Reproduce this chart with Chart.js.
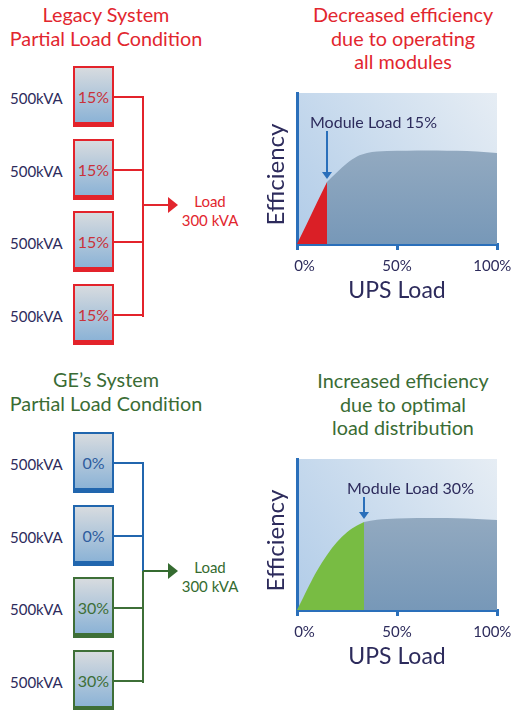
<!DOCTYPE html>
<html>
<head>
<meta charset="utf-8">
<script src="https://cdn.jsdelivr.net/npm/chart.js@4.4.0/dist/chart.umd.min.js"></script>
<style>
  html, body { margin: 0; padding: 0; background: #fff; }
  #page { position: relative; width: 512px; height: 710px; overflow: hidden; font-family: Lato, sans-serif; }
  .title { position: absolute; text-align: center; font-size: 19.8px; line-height: 23.5px; white-space: nowrap; }
  .rating { position: absolute; left: 10px; font-size: 15px; line-height: 20px; color: #2d2b5c; }
  .box { position: absolute; box-sizing: border-box; width: 41px; height: 61px; border: 2px solid; border-bottom-width: 5px;
         background: linear-gradient(#d7dbdf, #8cb3d6); text-align: center; font-size: 16px; line-height: 20px; padding-top: 19px; }
  .seg { position: absolute; }
  .head { position: absolute; width: 0; height: 0; border-top: 8px solid transparent; border-bottom: 8px solid transparent; border-left: 10px solid; }
  .load { position: absolute; width: 80px; text-align: center; font-size: 15px; line-height: 19px; }
  canvas { position: absolute; }
</style>
</head>
<body>
<div id="page">
  <div class="title" style="left:0;width:212px;top:3px;color:#e2262e">Legacy System<br>Partial Load Condition</div>
  <div class="title" style="left:300px;width:206px;top:3px;color:#e2262e">Decreased efficiency<br>due to operating<br>all modules</div>
  <div class="title" style="left:0;width:212px;top:368px;color:#3a6c34">GE’s System<br>Partial Load Condition</div>
  <div class="title" style="left:300px;width:206px;top:369px;color:#3a6c34">Increased efficiency<br>due to optimal<br>load distribution</div>
  <canvas id="legacyChart" width="256" height="225" style="left:256px;top:80px"></canvas>
  <canvas id="geChart" width="256" height="225" style="left:256px;top:446px"></canvas>
</div>
<script>
// module ratings and per-module load
const moduleRatingKVA = [500, 500, 500, 500];
const legacyModuleLoadPct = [15, 15, 15, 15];
const geModuleLoadPct = [0, 0, 30, 30];
const systemLoadKVA = 300;

// efficiency curves (relative height of the plot)
const upsLoadTicks = [0, 50, 100];
const legacyLoadPct = [0, 5, 10, 15, 20, 25, 30, 35, 40, 50, 60, 70, 80, 90, 100];
const legacyEfficiency = [0, 13.5, 27.5, 41, 47.5, 53.5, 58, 60.3, 61.2, 61.7, 62, 62, 61.7, 61.2, 60.3];
const legacyMarkerPct = 15;
const geLoadPct = [0, 3, 6, 10, 15, 20, 25, 30, 33.5, 40, 50, 60, 70, 80, 90, 100];
const geEfficiency = [0, 8, 16, 26, 36.5, 45, 51.5, 56, 58.3, 59.8, 60.6, 61, 61, 60.8, 60.3, 59.6];
const geMarkerPct = 33.5;

const NAVY = '#2d2b5c';
const AXIS_BLUE = '#2a6fba';
const RED = { border: '#e3232b', text: '#c9323a' };
const BLUE = { border: '#2166ae', text: '#2e5c9e' };
const GREEN = { border: '#3e6f37', text: '#3e6f37' };

const page = document.getElementById('page');

function addEl(cls, css, html) {
  const el = document.createElement('div');
  el.className = cls;
  Object.assign(el.style, css);
  if (html !== undefined) el.innerHTML = html;
  page.appendChild(el);
  return el;
}

function line(x1, y1, x2, y2, color) {
  addEl('seg', {
    left: Math.min(x1, x2) - (x1 === x2 ? 1 : 0) + 'px',
    top: Math.min(y1, y2) - (y1 === y2 ? 1 : 0) + 'px',
    width: (x1 === x2 ? 2 : Math.abs(x2 - x1)) + 'px',
    height: (y1 === y2 ? 2 : Math.abs(y2 - y1) + 2) + 'px',
    background: color
  });
}

function drawSystem(firstTop, loads, paletteFor, accent) {
  const boxX = 73, boxW = 41, pitch = 72.6, busX = 143;
  const centers = loads.map((_, i) => Math.round(firstTop + i * pitch + 31));
  loads.forEach((load, i) => {
    const top = Math.round(firstTop + i * pitch);
    const pal = paletteFor(load);
    addEl('rating', { top: (centers[i] - 9) + 'px' }, moduleRatingKVA[i] + 'kVA');
    addEl('box', { left: boxX + 'px', top: top + 'px', borderColor: pal.border, color: pal.text }, load + '%');
    line(boxX + boxW, centers[i], busX + 1, centers[i], pal.border);
  });
  const arrowY = Math.round((centers[1] + centers[2]) / 2) - 1;
  line(busX, centers[0], busX, arrowY, paletteFor(loads[0]).border);
  line(busX, arrowY, busX, centers[centers.length - 1], paletteFor(loads[loads.length - 1]).border);
  line(busX, arrowY, 169, arrowY, accent);
  addEl('head', { left: '168px', top: (arrowY - 8) + 'px', borderLeftColor: accent });
  addEl('load', { left: '170px', top: (arrowY - 13) + 'px', color: accent }, 'Load<br>' + systemLoadKVA + ' kVA');
}

drawSystem(66, legacyModuleLoadPct, () => RED, '#e2262e');
drawSystem(432, geModuleLoadPct, l => (l === 0 ? BLUE : GREEN), '#356b30');

const plotBg = {
  id: 'plotBg',
  beforeDraw(chart) {
    const { ctx, chartArea: a } = chart;
    const g = ctx.createLinearGradient(a.left, a.bottom, a.right, a.top);
    g.addColorStop(0, '#b1cce8');
    g.addColorStop(1, '#e6edf4');
    ctx.save();
    ctx.fillStyle = g;
    ctx.fillRect(a.left, a.top, a.right - a.left, a.bottom - a.top);
    ctx.restore();
  }
};

const moduleMarker = {
  id: 'moduleMarker',
  afterDatasetsDraw(chart, args, opts) {
    const { ctx, chartArea: a, scales: { x, y } } = chart;
    const px = Math.round(x.getPixelForValue(opts.load));
    const py = y.getPixelForValue(opts.eff);
    ctx.save();
    ctx.font = '16px Lato';
    ctx.fillStyle = NAVY;
    ctx.textBaseline = 'middle';
    ctx.fillText(opts.text, px - 17, a.top + 30);
    ctx.strokeStyle = AXIS_BLUE;
    ctx.fillStyle = AXIS_BLUE;
    ctx.lineWidth = 2;
    const tip = py - 3;
    ctx.beginPath();
    ctx.moveTo(px, a.top + 38);
    ctx.lineTo(px, tip - 6);
    ctx.stroke();
    ctx.beginPath();
    ctx.moveTo(px - 5, tip - 7);
    ctx.lineTo(px + 5, tip - 7);
    ctx.lineTo(px, tip);
    ctx.closePath();
    ctx.fill();
    ctx.restore();
  }
};

function grayFill(c) {
  const { ctx, chartArea } = c.chart;
  if (!chartArea) return '#8aa4bd';
  const g = ctx.createLinearGradient(0, chartArea.top, 0, chartArea.bottom);
  g.addColorStop(0, '#a3b4c5');
  g.addColorStop(1, '#7798b8');
  return g;
}

function efficiencyChart(id, loads, eff, marker, hiColor, markerText) {
  const pts = loads.map((x, i) => ({ x: x, y: eff[i] }));
  const markerEff = eff[loads.indexOf(marker)];
  return new Chart(document.getElementById(id), {
    type: 'line',
    data: {
      datasets: [
        { data: pts.filter(p => p.x <= marker), fill: 'origin', backgroundColor: hiColor,
          borderWidth: 0, pointRadius: 0, cubicInterpolationMode: 'monotone' },
        { data: pts.filter(p => p.x >= marker), fill: 'origin', backgroundColor: grayFill,
          borderWidth: 0, pointRadius: 0, cubicInterpolationMode: 'monotone' }
      ]
    },
    plugins: [plotBg, moduleMarker],
    options: {
      responsive: false,
      animation: false,
      layout: { padding: { top: 13, right: 15, left: 0, bottom: 0 } },
      plugins: {
        legend: { display: false },
        tooltip: { enabled: false },
        moduleMarker: { load: marker, eff: markerEff, text: markerText }
      },
      scales: {
        x: {
          type: 'linear', min: 0, max: 100,
          afterBuildTicks: s => { s.ticks = upsLoadTicks.map(v => ({ value: v })); },
          afterFit: s => { s.height = 61; s.paddingLeft = 0; s.paddingRight = 0; },
          grid: { drawOnChartArea: false, drawTicks: true, tickLength: 6, color: AXIS_BLUE, lineWidth: 3 },
          border: { color: AXIS_BLUE, width: 3 },
          ticks: {
            padding: 7, color: NAVY, font: { family: 'Lato', size: 15 }, maxRotation: 0,
            callback: v => v === 0 ? '\u2002\u20020%' : v === 100 ? '100%\u2002\u2009' : v + '%'
          },
          title: { display: true, text: 'UPS Load', color: NAVY, font: { family: 'Lato', size: 23 },
                   padding: { top: 0, bottom: 1 } }
        },
        y: {
          min: 0, max: 100,
          afterFit: s => { s.width = 41; },
          grid: { display: false },
          border: { color: AXIS_BLUE, width: 3 },
          ticks: { display: false },
          title: { display: true, text: 'Efficiency\u2002', color: NAVY, font: { family: 'Lato', size: 24 },
                   padding: { top: 6, bottom: 0 } }
        }
      }
    }
  });
}

document.fonts.load('16px Lato').then(() => {
  efficiencyChart('legacyChart', legacyLoadPct, legacyEfficiency, legacyMarkerPct, '#da1f26',
    'Module Load ' + legacyModuleLoadPct[0] + '%');
  efficiencyChart('geChart', geLoadPct, geEfficiency, geMarkerPct, '#78bc43',
    'Module Load ' + geModuleLoadPct[2] + '%');
});
</script>
</body>
</html>
